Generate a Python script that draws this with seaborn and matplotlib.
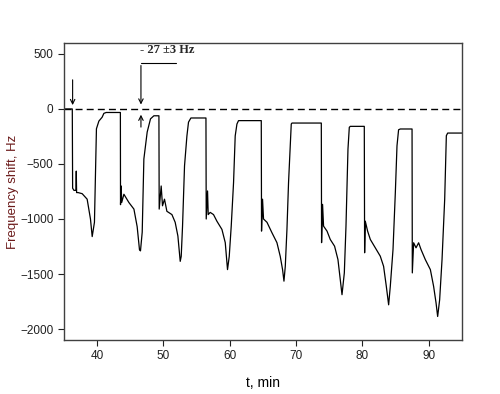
import matplotlib
matplotlib.use("Agg")
import matplotlib.pyplot as plt
import seaborn as sns
import pandas as pd
import numpy as np

# Time (min) and frequency shift (Hz)
t_min = [35.0, 36.25, 36.3, 36.5, 36.8, 36.85, 36.9, 37.13, 37.74, 38.49, 38.99, 39.25, 39.59, 39.74, 39.89, 40.26, 40.75, 41.01, 41.36, 43.5,
         43.52, 43.62, 43.7, 44.03, 44.78, 45.54, 46.03, 46.38, 46.53, 46.79, 47.04, 47.54, 48.04, 48.55, 49.31,
         49.35, 49.65, 49.85, 50.15, 50.51, 51.27, 51.76, 52.17, 52.52, 52.67, 52.87, 53.17, 53.53, 53.77, 54.13, 56.40,
         56.44, 56.64, 56.74, 57.04, 57.54, 58.05, 58.81, 59.31, 59.65, 59.91, 60.21, 60.56, 60.81, 61.07, 61.31, 64.74,
         64.78, 64.93, 65.08, 65.60, 66.35, 67.10, 67.60, 67.95, 68.16, 68.36, 68.61, 68.85, 69.26, 69.37, 73.79,
         73.83, 73.98, 74.13, 74.65, 75.14, 75.79, 76.30, 76.65, 76.91, 77.26, 77.51, 77.81, 78.01, 78.16, 80.27,
         80.32, 80.42, 80.77, 81.18, 81.93, 82.68, 83.18, 83.59, 83.94, 84.19, 84.60, 84.95, 85.20, 85.44, 85.70, 87.47,
         87.51, 87.71, 88.07, 88.46, 88.82, 89.47, 90.23, 90.72, 91.09, 91.33, 91.63, 91.99, 92.39, 92.64, 92.84, 95.05]
shift_hz = [0, 0, -720, -740, -740, -565, -760, -760, -770, -820, -1000, -1160, -1030, -610, -180, -110, -75, -40, -32, -32,
            -870, -700, -850, -775, -850, -910, -1070, -1280, -1290, -1120, -455, -210, -90, -62, -62,
            -910, -700, -880, -820, -930, -960, -1030, -1155, -1385, -1340, -1065, -517, -245, -120, -82, -82,
            -1000, -745, -960, -940, -960, -1020, -1095, -1215, -1460, -1340, -1065, -670, -245, -137, -106, -106,
            -1110, -820, -1000, -1030, -1125, -1215, -1340, -1460, -1565, -1430, -1095, -670, -137, -128, -128,
            -1215, -867, -1065, -1110, -1186, -1247, -1369, -1551, -1688, -1490, -1065, -365, -167, -158, -158,
            -1307, -1020, -1110, -1186, -1262, -1338, -1430, -1612, -1780, -1612, -1277, -760, -335, -189, -182, -182,
            -1490, -1216, -1262, -1216, -1277, -1369, -1460, -1612, -1764, -1886, -1734, -1369, -821, -243, -219, -219]

x_ticks = [40, 50, 60, 70, 80, 90]
y_ticks = [500, 0, -500, -1000, -1500, -2000]
annot_text = "- 27 \u00b13 Hz"

df = pd.DataFrame({"t": t_min, "f": shift_hz})

sns.set_style("white")
plt.rcParams["font.family"] = ["Liberation Sans", "DejaVu Sans"]

fig = plt.figure(figsize=(5.0, 3.94), dpi=100)
ax = fig.add_axes([0.128, 0.137, 0.796, 0.754])

sns.lineplot(data=df, x="t", y="f", ax=ax, color="black", linewidth=0.9,
             estimator=None, sort=False)
ax.axhline(0, color="black", linestyle=(0, (5, 3)), linewidth=1.0)

ax.set_xlim(35, 95)
ax.set_ylim(-2100, 600)
ax.set_xticks(x_ticks)
ax.set_yticks(y_ticks)
ax.tick_params(axis="both", direction="out", length=4, width=0.8, labelsize=8.5,
               colors="#202020", bottom=True, left=True)
for s in ax.spines.values():
    s.set_color("#404040")
    s.set_linewidth(1.0)

ax.set_xlabel("t, min", fontsize=10, color="black", labelpad=10)
ax.set_ylabel("Frequency shift, Hz", fontsize=9.5, color="#6b1a1a")
ax.yaxis.set_label_coords(-0.112, 0.5)

arrow_kw = dict(arrowstyle="->", color="black", lw=0.8, mutation_scale=8)
# first arrow: injection start
ax.annotate("", xy=(36.3, 10), xytext=(36.3, 290), arrowprops=arrow_kw)
# annotation for -27 Hz
ax.plot([46.6, 51.9], [420, 420], color="black", lw=0.8)
ax.annotate("", xy=(46.6, 15), xytext=(46.6, 420), arrowprops=arrow_kw)
ax.annotate("", xy=(46.6, -27), xytext=(46.6, -190), arrowprops=arrow_kw)
ax.text(46.4, 480, annot_text, fontsize=9, fontweight="bold",
        family=["Liberation Serif", "DejaVu Serif"], ha="left", va="bottom")

fig.savefig("out.png", dpi=100)
